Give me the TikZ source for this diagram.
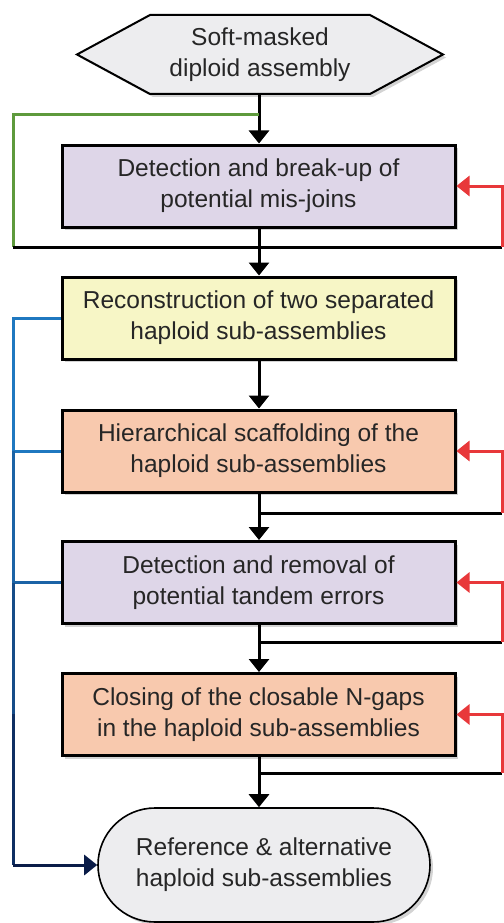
\documentclass[tikz,border=0pt]{standalone}
\usepackage{fontspec}
\setmainfont{Liberation Sans}
\usetikzlibrary{arrows.meta, shapes.misc, shadows}

\definecolor{lilac}{HTML}{DED6E8}
\definecolor{paleyellow}{HTML}{F7F6C6}
\definecolor{peach}{HTML}{F8C9AE}
\definecolor{lightgrey}{HTML}{EDEDEF}
\definecolor{loopred}{HTML}{E8383A}
\definecolor{loopgreen}{HTML}{5E9A3C}
\definecolor{blueA}{HTML}{1F78C0}
\definecolor{blueB}{HTML}{1B63A6}
\definecolor{blueC}{HTML}{164C88}
\definecolor{blueD}{HTML}{0E2F62}
\definecolor{blueE}{HTML}{0A1C48}

\begin{document}
\begin{tikzpicture}[x=1pt,y=-1pt]
  % Styles
  \tikzset{
    txt/.style={font=\fontsize{24.5}{31}\selectfont, text=black!85, align=center},
    shade box/.style={drop shadow={shadow xshift=3pt,shadow yshift=-3pt,opacity=0.35}},
    stepbox/.style={txt, shade box, draw=black, line width=3pt, rectangle,
      minimum width=393pt, minimum height=82pt, inner sep=0pt},
    tip/.style={-{Triangle[width=20pt,length=13pt]}},
    flow/.style={line width=3pt, tip},
    wire/.style={line width=3pt},
    redloop/.style={line width=3pt, loopred, tip}
  }

  % Page frame
  \useasboundingbox (0,0) rectangle (503,923);

  % Hexagon of the input
  \filldraw[shade box, draw=black, line width=2pt, fill=lightgrey]
    (77,54.5) -- (150,15) -- (370,15) -- (443,54.5) -- (370,94) -- (150,94) -- cycle;

  % Nodes
  \node[txt, minimum width=293pt, minimum height=79pt, inner sep=0pt]
        (input) at (260,54.5) {Soft-masked\\diploid assembly};
  \node[stepbox, fill=lilac] (breakup) at (258.5,186)
        {Detection and break-up of\\potential mis-joins};
  \node[stepbox, fill=paleyellow] (haplo) at (258.5,318)
        {Reconstruction of two separated\\haploid sub-assemblies};
  \node[stepbox, fill=peach] (scaff) at (258.5,451)
        {Hierarchical scaffolding of the\\haploid sub-assemblies};
  \node[stepbox, fill=lilac] (tandem) at (258.5,582.5)
        {Detection and removal of\\potential tandem errors};
  \node[stepbox, fill=peach] (gaps) at (258.5,714.5)
        {Closing of the closable N-gaps\\in the haploid sub-assemblies};
  \node[txt, shade box, draw=black, line width=1.6pt, fill=lightgrey,
        rounded rectangle, minimum width=332pt, minimum height=114pt,
        inner sep=0pt] (result) at (264,865)
        {Reference \& alternative\\haploid sub-assemblies};

  % Junction points
  \coordinate (j0) at (259,115);
  \coordinate (j1) at (259,247);
  \coordinate (j3) at (259,513);
  \coordinate (j4) at (259,642);
  \coordinate (j5) at (259,773);

  % Main flow
  \draw[flow] (input.south -| j0) -- (breakup.north -| j0);
  \draw[flow] (breakup.south -| j0) -- (haplo.north -| j0);
  \draw[flow] (haplo.south -| j0) -- (scaff.north -| j0);
  \draw[flow] (scaff.south -| j0) -- (tandem.north -| j0);
  \draw[flow] (tandem.south -| j0) -- (gaps.north -| j0);
  \draw[flow] (gaps.south -| j0) -- (result.north -| j0);

  % Bypass of the mis-join step
  \draw[wire, loopgreen] (j0) -- (13,115) -- (13,247);
  \draw[wire] (13,247) -- (j1);

  % Repeat loops
  \draw[wire] (j1) -- (502,247);
  \draw[redloop] (502,247) |- (breakup.east);
  \draw[wire] (j3) -- (502,513);
  \draw[redloop] (502,513) |- (scaff.east);
  \draw[wire] (j4) -- (502,642);
  \draw[redloop] (502,642) |- (tandem.east);
  \draw[wire] (j5) -- (502,773);
  \draw[redloop] (502,773) |- (gaps.east);

  % Shortcut to the final assemblies
  \draw[wire, blueA] (haplo.west) -- (13,318) -- (13,451);
  \draw[wire, blueA] (scaff.west) -- (13,451);
  \draw[wire, blueB] (13,451) -- (13,582.5);
  \draw[wire, blueB] (tandem.west) -- (13,582.5);
  \draw[wire, blueC] (13,582.5) -- (13,714);
  \draw[wire, blueD] (13,714) -- (13,865);
  \draw[line width=3pt, blueE, tip] (13,865) -- (result.west);
\end{tikzpicture}
\end{document}
